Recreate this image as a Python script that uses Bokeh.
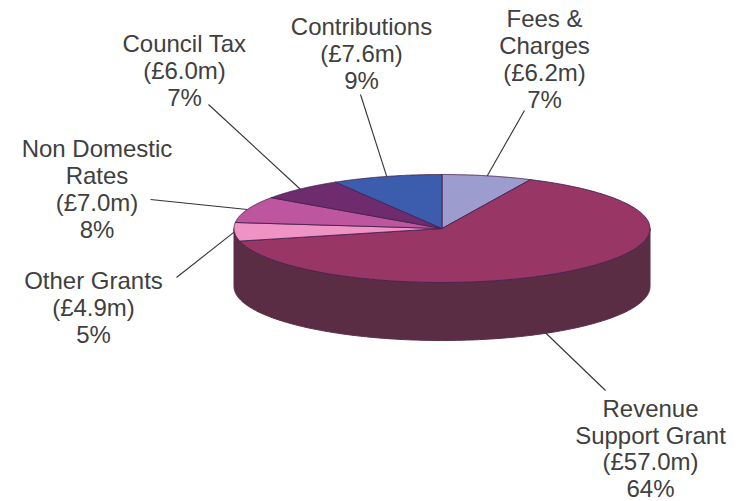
import numpy as np
from bokeh.embed import file_html
from bokeh.models import ColumnDataSource, Range1d
from bokeh.plotting import figure
from bokeh.resources import INLINE
from bokeh.core.properties import value

# Income sources in £m, clockwise from twelve o'clock
sources = ["Fees & Charges", "Revenue Support Grant", "Other Grants",
           "Non Domestic Rates", "Council Tax", "Contributions"]
amounts = [6.2, 57.0, 4.9, 7.0, 6.0, 7.6]
percents = [7, 64, 5, 8, 7, 9]
label_lines = [
    ["Fees &", "Charges", "(£6.2m)", "7%"],
    ["Revenue", "Support Grant", "(£57.0m)", "64%"],
    ["Other Grants", "(£4.9m)", "5%"],
    ["Non Domestic", "Rates", "(£7.0m)", "8%"],
    ["Council Tax", "(£6.0m)", "7%"],
    ["Contributions", "(£7.6m)", "9%"],
]

# Styling and layout, one entry per source
top_colors = ["#9c9ccf", "#983666", "#ef93c4", "#bd559f", "#6e2c6e", "#3c5cad"]
label_x = [544, 650, 93, 96.5, 184, 361]
label_y = [18, 408, 280, 148, 43, 26]
line_step = [27, 26.6, 27, 27, 27, 26.8]
leader_from = [(524, 110), (605, 390), (176, 277), (150, 199), (208, 104), (360, 94)]

# Projected pie geometry
CX, CY, RX, RY, DEPTH = 441.5, 228.0, 208.0, 54.0, 58.0
SIDE_COLOR = "#5b2d45"
EDGE_COLOR = "#43204f"


def rim(angle):
    """Point on the upper rim for a clockwise angle (radians) from twelve o'clock."""
    return CX + RX * np.sin(angle), CY - RY * np.cos(angle)


p = figure(width=739, height=501, x_range=Range1d(0, 739), y_range=Range1d(501, 0),
           output_backend="svg", toolbar_location=None, min_border=0,
           background_fill_color="white", border_fill_color="white", outline_line_color=None)
p.axis.visible = False
p.grid.visible = False

# Wall of the cylinder, only the front half is visible
front = np.linspace(np.pi / 2, 3 * np.pi / 2, 200)
fx, fy = rim(front)
p.patch(np.r_[fx, fx[::-1]], np.r_[fy + DEPTH, fy[::-1]],
        fill_color=SIDE_COLOR, line_color=SIDE_COLOR, line_width=1)

# Top surface slices come straight from the amounts
edges = np.r_[0, np.cumsum(amounts)] / np.sum(amounts) * 2 * np.pi
xs, ys = [], []
for start, stop in zip(edges[:-1], edges[1:]):
    theta = np.linspace(start, stop, 120)
    rx, ry = rim(theta)
    xs.append(np.r_[CX, rx].tolist())
    ys.append(np.r_[CY, ry].tolist())
p.patches(xs="x", ys="y", source=ColumnDataSource(dict(
    x=xs, y=ys, color=top_colors, name=sources, pct=percents)),
    fill_color="color", line_color=EDGE_COLOR, line_width=1, line_alpha=0.85)

# Leader lines run to the slice's rim; the large slice is reached on the wall's lower edge
mids = (edges[:-1] + edges[1:]) / 2
ends = []
for i, mid in enumerate(mids):
    if sources[i] == "Revenue Support Grant":
        ex, ey = rim(np.radians(150.0))
        ends.append((ex, ey + DEPTH))
    else:
        ends.append(rim(mid))
p.segment(x0=[a[0] for a in leader_from], y0=[a[1] for a in leader_from],
          x1=[e[0] for e in ends], y1=[e[1] for e in ends],
          line_color="#333333", line_width=1.1)

# Labels, one text per line
tx, ty, tt = [], [], []
for lines, x, y, step in zip(label_lines, label_x, label_y, line_step):
    for n, line in enumerate(lines):
        tx.append(x)
        ty.append(y + n * step)
        tt.append(line)
p.text(x=tx, y=ty, text=tt, text_font=value("Liberation Sans"), text_font_size="24px",
       text_align="center", text_baseline="middle", text_color="#404040")

open("out.html", "w").write(file_html(p, INLINE))
